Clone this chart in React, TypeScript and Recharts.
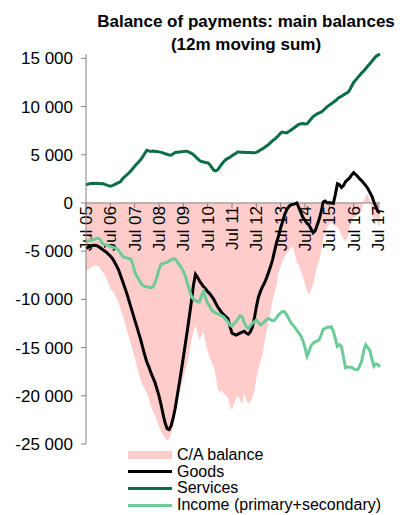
import React from "react";
import {
  ComposedChart,
  Area,
  Line,
  XAxis,
  YAxis,
  ReferenceLine,
  Legend,
} from "recharts";

const FONT = '"Liberation Sans", Arial, sans-serif';

const MONTH_NAMES = ["Jan", "Feb", "Mar", "Apr", "May", "Jun", "Jul", "Aug", "Sep", "Oct", "Nov", "Dec"];

// monthly, Jul 2005 .. Aug 2017
const months: string[] = Array.from({ length: 146 }, (_, i) => {
  const m = (6 + i) % 12;
  const y = 5 + Math.floor((6 + i) / 12);
  return `${MONTH_NAMES[m]} ${String(y).padStart(2, "0")}`;
});

const yearTicks = ["Jul 05", "Jul 06", "Jul 07", "Jul 08", "Jul 09", "Jul 10", "Jul 11", "Jul 12", "Jul 13", "Jul 14", "Jul 15", "Jul 16", "Jul 17"];
const valueTicks = [15000, 10000, 5000, 0, -5000, -10000, -15000, -20000, -25000];

const caBalance = [
  -7000, -6900, -6800, -6600, -6550, -6500, -6500, -6800, -7100, -7400,
  -7800, -8300, -8900, -9100, -9400, -9900, -10300, -11000, -11600, -12300,
  -13100, -13800, -14500, -15300, -16000, -16900, -17700, -18400, -18900, -19300,
  -19700, -20300, -21100, -21600, -22000, -22500, -23200, -23700, -24100, -24400,
  -24600, -24500, -24000, -23000, -21500, -20500, -19700, -19000, -18200, -17300,
  -16500, -15500, -14300, -13300, -12700, -13500, -14200, -13800, -13400, -14500,
  -15300, -16000, -16600, -17000, -18000, -19300, -19600, -19500, -19800, -20000,
  -20200, -21000, -21500, -20800, -20300, -20000, -20500, -20900, -19800, -20300,
  -20900, -20600, -20200, -19500, -18200, -17200, -16500, -15800, -14500, -13400,
  -12300, -11300, -10200, -9400, -8500, -7200, -6600, -6000, -5600, -5300,
  -5000, -4700, -4500, -5300, -6200, -6500, -7100, -7700, -8400, -9100,
  -9500, -9000, -8500, -7500, -6500, -6000, -5000, -3800, -3000, -2500,
  -2200, -2000, -2300, -2400, -2500, -2800, -3300, -3700, -4000, -3500,
  -2500, -1800, -1500, -1400, -1300, -1100, -700, 200, 800, 850,
  300, -900, -1800, -1500, -2200, -2500,
];

const goods = [
  -4700, -4600, -4500, -4400, -4380, -4400, -4500, -4650, -4800, -4950,
  -5100, -5300, -5500, -5750, -6100, -6500, -6900, -7500, -8100, -8700,
  -9300, -10000, -10700, -11400, -12100, -12800, -13500, -14200, -15000, -15800,
  -16500, -17000, -17600, -18100, -18600, -19300, -20000, -20900, -21900, -22800,
  -23400, -23500, -23100, -22300, -21300, -20000, -18700, -17400, -16000, -14600,
  -13200, -11700, -10200, -8500, -7400, -7700, -8100, -8400, -8700, -8900,
  -9200, -9400, -9700, -10000, -10400, -10800, -11100, -11400, -11600, -11800,
  -12000, -12800, -13500, -13600, -13700, -13600, -13500, -13400, -13300, -13500,
  -13600, -13400, -12900, -12000, -10800, -9800, -9200, -8700, -8300, -7800,
  -7200, -6600, -5900, -5000, -4100, -3400, -2600, -1900, -1200, -700,
  -400, -200, -150, -100, 0, -500, -1000, -1500, -1800, -2100,
  -2300, -2700, -3100, -2900, -2300, -1700, -900, 100, 200, 0,
  50, 0, -50, 900, 2000, 1900, 1600, 1800, 2200, 2400,
  2600, 2900, 3150, 2950, 2750, 2500, 2300, 2050, 1800, 1500,
  1100, 700, 100, -400, -900, -1000,
];

const services = [
  1880, 1950, 2000, 2050, 2030, 2050, 2030, 2000, 2020, 1950,
  1880, 1800, 1750, 1800, 1900, 2000, 2100, 2200, 2500, 2700,
  2900, 3080, 3300, 3550, 3800, 4050, 4250, 4500, 4800, 5150,
  5470, 5400, 5350, 5380, 5330, 5340, 5300, 5250, 5200, 5100,
  5050, 4980, 4960, 5100, 5240, 5260, 5280, 5300, 5330, 5370,
  5350, 5250, 5150, 5000, 4800, 4600, 4400, 4300, 4250, 4200,
  4180, 4000, 3700, 3400, 3320, 3450, 3750, 4050, 4300, 4500,
  4620, 4750, 4900, 5050, 5150, 5300, 5250, 5270, 5250, 5230,
  5240, 5230, 5200, 5200, 5250, 5350, 5500, 5600, 5750, 5900,
  6050, 6250, 6450, 6600, 6800, 7000, 7250, 7360, 7300, 7260,
  7400, 7550, 7700, 7850, 8000, 8150, 8210, 8230, 8200, 8210,
  8450, 8700, 8960, 9100, 9250, 9350, 9410, 9600, 9800, 10000,
  10150, 10300, 10440, 10600, 10800, 10950, 11060, 11200, 11350, 11450,
  11700, 12100, 12500, 12750, 13000, 13250, 13500, 13690, 13950, 14200,
  14440, 14700, 14950, 15200, 15330, 15450,
];

const income = [
  -4000, -3930, -3900, -3850, -3800, -3700, -3650, -3800, -4200, -4300,
  -4350, -4400, -4500, -4600, -4650, -4700, -4900, -5200, -5500, -5650,
  -5700, -5750, -5820, -6300, -7100, -7600, -7900, -8300, -8550, -8650,
  -8700, -8750, -8800, -8730, -8300, -7700, -6900, -6350, -6300, -6200,
  -6160, -6000, -5900, -5800, -5850, -6100, -6400, -6700, -7100, -7600,
  -8300, -9000, -9700, -10000, -10100, -10250, -10270, -9600, -9170, -9900,
  -10400, -10700, -11100, -11300, -11400, -11500, -11600, -11700, -11850, -12100,
  -12300, -12700, -12800, -12500, -12300, -12000, -11700, -11800, -12400, -12800,
  -13000, -12800, -12500, -12300, -12150, -12400, -12650, -12500, -12300, -12100,
  -11980, -12100, -12200, -12150, -11900, -11600, -11400, -11250, -11290, -11600,
  -12000, -12400, -12660, -12900, -13200, -13500, -13800, -14300, -15000, -15900,
  -15400, -14800, -14550, -14400, -14300, -14200, -13700, -13100, -13000, -12900,
  -12900, -12830, -13300, -14100, -14890, -14700, -14900, -16000, -17100, -17000,
  -17050, -17040, -17200, -17300, -17280, -16900, -16400, -15300, -14720, -15000,
  -15300, -16200, -16940, -16700, -16770, -17000,
];

const data = months.map((month, i) => ({
  month,
  ca: caBalance[i],
  goods: goods[i],
  services: services[i],
  income: income[i],
}));

const legendItems = [
  { name: "C/A balance", color: "#FFCCCC", kind: "area" },
  { name: "Goods", color: "#000000", kind: "line" },
  { name: "Services", color: "#0B6E47", kind: "line" },
  { name: "Income (primary+secondary)", color: "#6CCB97", kind: "line" },
];

const fmt = (v: number) => {
  const s = Math.abs(v).toString().replace(/\B(?=(\d{3})+(?!\d))/g, " ");
  return v < 0 ? "-" + s : s;
};

const LegendBox = () => (
  <div style={{ fontFamily: FONT, fontSize: 16, color: "#000" }}>
    {legendItems.map((it) => (
      <div key={it.name} style={{ display: "flex", alignItems: "center", height: 16.6, lineHeight: "16.6px", whiteSpace: "nowrap" }}>
        <div
          style={{
            width: 44,
            height: it.kind === "area" ? 8 : 3,
            background: it.color,
            marginRight: 5,
          }}
        />
        <span>{it.name}</span>
      </div>
    ))}
  </div>
);

const YearLabel = (props: any) => {
  const vb = props.viewBox || {};
  const label = props.text;
  return (
    <text
      transform={`translate(${vb.x},${vb.y + 3}) rotate(-90)`}
      textAnchor="end"
      dy="0.36em"
      fontSize={17}
      fontFamily={FONT}
      fill="#000"
    >
      {label}
    </text>
  );
};

export default function App() {
  return (
    <div style={{ position: "absolute", left: 0, top: 0, width: 403, height: 515, background: "#fff" }}>
      <div
        style={{
          position: "absolute",
          left: 90,
          top: 10,
          width: 312,
          textAlign: "center",
          fontFamily: FONT,
          fontWeight: "bold",
          fontSize: 17,
          lineHeight: "23px",
          whiteSpace: "nowrap",
        }}
      >
        Balance of payments: main balances
        <br />
        (12m moving sum)
      </div>
      <ComposedChart
        width={403}
        height={515}
        data={data}
        margin={{ top: 54, right: 23, bottom: 71, left: 10 }}
      >
        <XAxis dataKey="month" scale="point" hide />
        <YAxis
          width={76}
          domain={[-25000, 15000]}
          ticks={valueTicks}
          interval={0}
          tickFormatter={fmt}
          tick={{ fill: "#000", fontSize: 17, fontFamily: FONT }}
          axisLine={{ stroke: "#808080" }}
          tickLine={{ stroke: "#808080" }}
          tickSize={5}
          tickMargin={8}
        />
        <Area
          dataKey="ca"
          name="C/A balance"
          type="linear"
          baseValue={0}
          stroke="none"
          fill="#FFCCCC"
          fillOpacity={1}
          isAnimationActive={false}
        />
        <ReferenceLine y={0} stroke="#808080" strokeWidth={1} />
        {yearTicks.map((t) => (
          <ReferenceLine
            key={t}
            segment={[{ x: t, y: 0 }, { x: t, y: -520 }]}
            stroke="#808080"
            strokeWidth={1}
            label={(p: any) => <YearLabel {...p} text={t} />}
          />
        ))}
        <Line dataKey="goods" name="Goods" type="linear" stroke="#000000" strokeWidth={3} dot={false} isAnimationActive={false} />
        <Line dataKey="services" name="Services" type="linear" stroke="#0B6E47" strokeWidth={3} dot={false} isAnimationActive={false} />
        <Line dataKey="income" name="Income (primary+secondary)" type="linear" stroke="#6CCB97" strokeWidth={3} dot={false} isAnimationActive={false} />
        <Legend
          layout="vertical"
          align="center"
          verticalAlign="middle"
          wrapperStyle={{ top: 447, left: 128, width: 270 }}
          content={() => <LegendBox />}
        />
      </ComposedChart>
    </div>
  );
}
